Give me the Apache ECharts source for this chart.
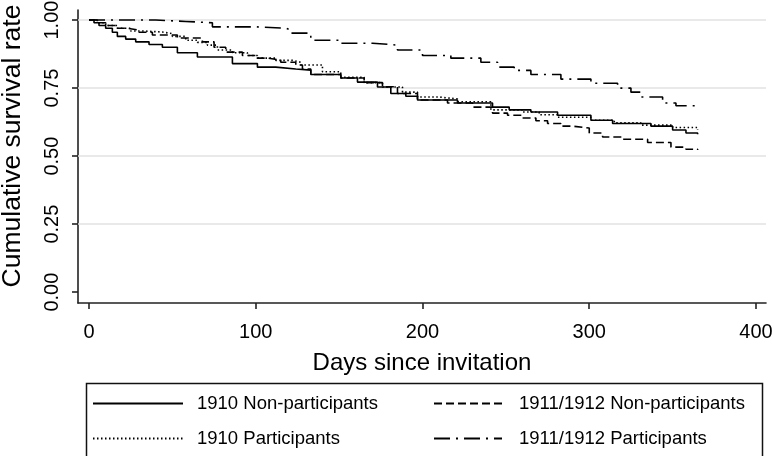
<!DOCTYPE html>
<html>
<head>
<meta charset="utf-8">
<script src="https://cdn.jsdelivr.net/npm/echarts@6/dist/echarts.min.js"></script>
<style>html,body{margin:0;padding:0;background:#fff;}#c{width:774px;height:456px;}</style>
</head>
<body>
<div id="c"></div>
<script>
// ---- data ----
const seriesNames = ['1910 Non-participants', '1910 Participants', '1911/1912 Non-participants', '1911/1912 Participants'];
const yTitle = 'Cumulative survival rate';
const xTitle = 'Days since invitation';

const nonPart1910Days = [0, 3, 6, 10, 14, 17, 22, 28, 36, 44, 53, 65, 86, 101, 112, 124, 133, 151, 161, 173, 181, 190, 197, 221, 242, 252, 265, 281, 301, 314, 337, 350, 358, 365];
const nonPart1910Surv = [1.0, 0.99, 0.98, 0.97, 0.955, 0.94, 0.93, 0.92, 0.91, 0.90, 0.88, 0.864, 0.84, 0.827, 0.82, 0.816, 0.80, 0.787, 0.772, 0.754, 0.73, 0.72, 0.706, 0.695, 0.68, 0.67, 0.662, 0.65, 0.632, 0.62, 0.61, 0.596, 0.585, 0.58];

const part1910Days = [0, 5, 10, 17, 25, 32, 44, 50, 58, 65, 71, 77, 86, 95, 101, 112, 122, 127, 140, 151, 165, 176, 188, 197, 210, 221, 241, 260, 270, 281, 301, 315, 331, 350, 365];
const part1910Surv = [1.0, 0.99, 0.98, 0.97, 0.96, 0.956, 0.95, 0.94, 0.926, 0.918, 0.908, 0.89, 0.88, 0.87, 0.86, 0.852, 0.845, 0.835, 0.81, 0.79, 0.77, 0.754, 0.735, 0.717, 0.71, 0.70, 0.67, 0.662, 0.652, 0.643, 0.632, 0.622, 0.614, 0.605, 0.596];

const nonPart1911Days = [0, 5, 10, 16, 23, 30, 38, 53, 68, 75, 82, 92, 100, 107, 115, 124, 128, 133, 151, 165, 176, 185, 197, 215, 230, 242, 251, 260, 268, 275, 283, 290, 300, 308, 320, 335, 349, 358, 365];
const nonPart1911Surv = [1.0, 0.99, 0.98, 0.97, 0.963, 0.955, 0.945, 0.934, 0.92, 0.90, 0.882, 0.87, 0.86, 0.853, 0.845, 0.835, 0.82, 0.80, 0.787, 0.77, 0.755, 0.73, 0.706, 0.695, 0.68, 0.658, 0.65, 0.64, 0.63, 0.62, 0.61, 0.603, 0.585, 0.57, 0.562, 0.55, 0.533, 0.525, 0.522];

const part1911Days = [0, 40, 58, 74, 100, 118, 121, 133, 151, 170, 185, 200, 217, 235, 245, 255, 265, 283, 301, 317, 325, 331, 344, 352, 365];
const part1911Surv = [1.0, 0.995, 0.99, 0.975, 0.97, 0.963, 0.952, 0.926, 0.915, 0.908, 0.89, 0.87, 0.86, 0.845, 0.827, 0.815, 0.80, 0.783, 0.768, 0.75, 0.735, 0.717, 0.695, 0.685, 0.676];

const xTicks = [0, 100, 200, 300, 400];
const yTicks = [0, 0.25, 0.5, 0.75, 1.0];
const gridValues = [0.25, 0.5, 0.75, 1.0];

// ---- chart ----
const FONT = 'Liberation Sans, Arial, sans-serif';
function pairs(xs, ys) { return xs.map((x, i) => [x, ys[i]]); }

const lineTypes = ['solid', [1.5, 2.5], [8, 4], [16, 6, 2, 6]];
const dataSets = [
  pairs(nonPart1910Days, nonPart1910Surv),
  pairs(part1910Days, part1910Surv),
  pairs(nonPart1911Days, nonPart1911Surv),
  pairs(part1911Days, part1911Surv)
];

const series = seriesNames.map((name, i) => ({
  name: name,
  type: 'line',
  step: 'end',
  symbol: 'none',
  showSymbol: false,
  data: dataSets[i],
  lineStyle: { color: '#000', width: 1.6, type: lineTypes[i] },
  itemStyle: { color: '#000' },
  z: 3,
  animation: false
}));

series[0].markLine = {
  silent: true,
  symbol: 'none',
  label: { show: false },
  lineStyle: { color: '#e2e2e2', width: 1.5, type: 'solid' },
  data: gridValues.map(v => ({ yAxis: v })),
  z: 1,
  animation: false
};

const legendCommon = {
  orient: 'vertical',
  top: 394,
  padding: 0,
  itemHeight: 14, itemGap: 16,
  itemStyle: { opacity: 0, borderWidth: 0 },
  selectedMode: false
};

const chart = echarts.init(document.getElementById('c'), null, { renderer: 'canvas' });
chart.setOption({
  animation: false,
  backgroundColor: '#fff',
  textStyle: { fontFamily: FONT },
  grid: { left: 78, right: 8, top: 10, bottom: 153, containLabel: false, outerBoundsMode: 'none' },
  xAxis: {
    type: 'value',
    min: -6.6,
    max: 406,
    name: xTitle,
    nameLocation: 'middle',
    nameGap: 48,
    nameTextStyle: { fontSize: 24, color: '#000', fontFamily: FONT },
    axisLine: { show: true, onZero: false, lineStyle: { color: '#222', width: 1.6 } },
    axisTick: { show: true, length: 6, customValues: xTicks, lineStyle: { color: '#222', width: 1.6 } },
    axisLabel: { customValues: xTicks, fontSize: 20, color: '#000', margin: 19, fontFamily: FONT },
    splitLine: { show: false }
  },
  yAxis: {
    type: 'value',
    min: -0.04,
    max: 1.037,
    axisLine: { show: true, onZero: false, lineStyle: { color: '#222', width: 1.6 } },
    axisTick: { show: true, length: 6, customValues: yTicks, lineStyle: { color: '#222', width: 1.6 } },
    axisLabel: { customValues: yTicks, rotate: 90, fontSize: 20, color: '#000', margin: 26, fontFamily: FONT,
                 align: 'center', verticalAlign: 'middle',
                 formatter: v => v.toFixed(2) },
    splitLine: { show: false }
  },
  legend: [
    Object.assign({}, legendCommon, {
      data: [seriesNames[0], seriesNames[1]],
      left: 92,
      itemWidth: 90,
      textStyle: { fontSize: 18.5, color: '#000', fontFamily: FONT, padding: [0, 0, 0, 9] }
    }),
    Object.assign({}, legendCommon, {
      data: [seriesNames[2], seriesNames[3]],
      left: 433,
      itemWidth: 68,
      textStyle: { fontSize: 18.5, color: '#000', fontFamily: FONT, padding: [0, 0, 0, 12] }
    })
  ],
  graphic: [
    { type: 'rect', left: 84, top: 381, shape: { width: 676, height: 74 },
      style: { fill: 'none', stroke: '#111', lineWidth: 1.5 }, silent: true },
    { type: 'text', x: 13, y: 146, rotation: Math.PI / 2, silent: true,
      style: { text: yTitle, fill: '#000', font: '26.5px ' + FONT, textAlign: 'center', textVerticalAlign: 'middle' } }
  ],
  series: series
});
</script>
</body>
</html>
